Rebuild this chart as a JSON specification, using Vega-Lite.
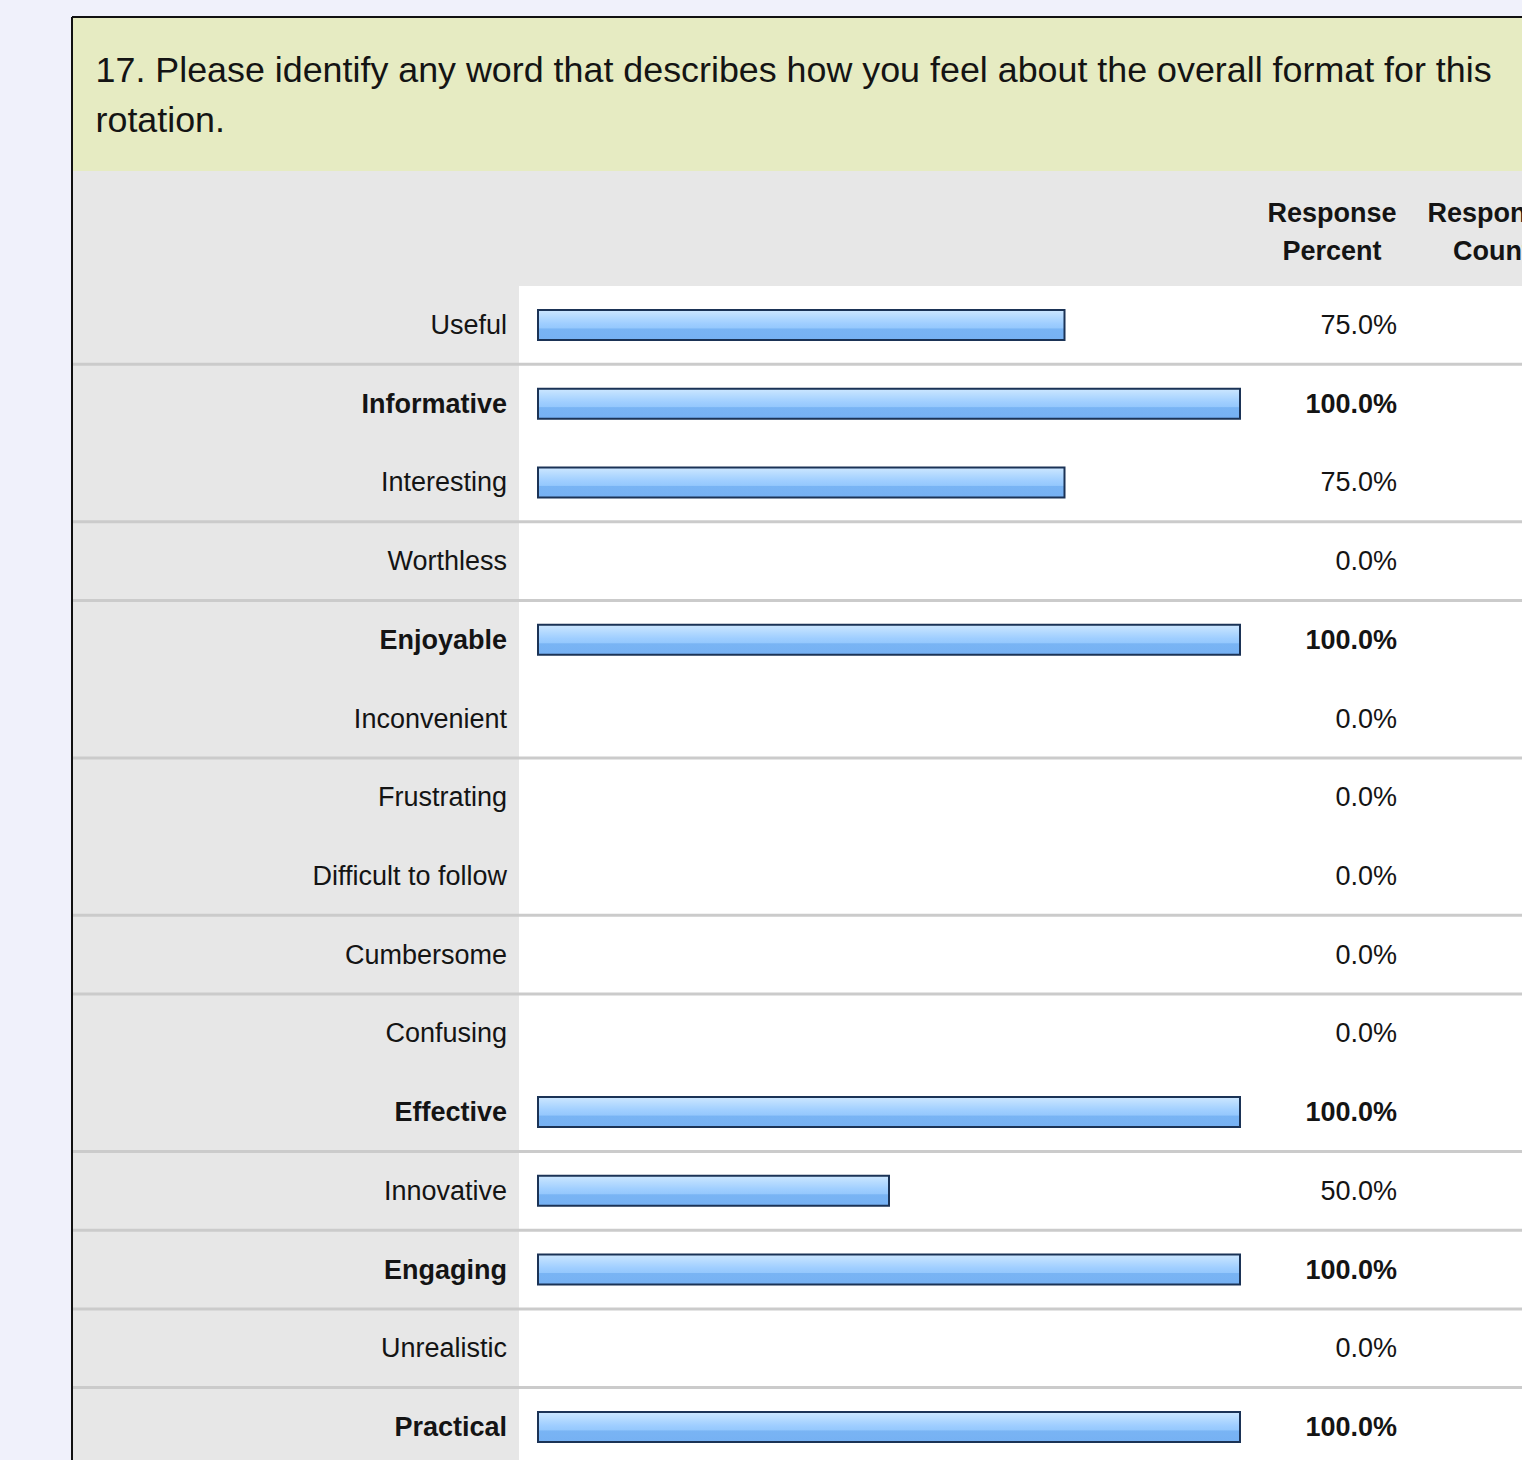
{
  "$schema": "https://vega.github.io/schema/vega-lite/v6.json",
  "width": 1522,
  "height": 1460,
  "autosize": {"type": "none"},
  "padding": 0,
  "background": "#f0f1fb",
  "config": {"view": {"stroke": null}, "font": "Liberation Sans"},
  "datasets": {
    "answers": [
      {"rank": 0, "word": "Useful", "share": 0.75, "block": 0},
      {"rank": 1, "word": "Informative", "share": 1.0, "block": 1},
      {"rank": 2, "word": "Interesting", "share": 0.75, "block": 1},
      {"rank": 3, "word": "Worthless", "share": 0, "block": 2},
      {"rank": 4, "word": "Enjoyable", "share": 1.0, "block": 3},
      {"rank": 5, "word": "Inconvenient", "share": 0, "block": 3},
      {"rank": 6, "word": "Frustrating", "share": 0, "block": 4},
      {"rank": 7, "word": "Difficult to follow", "share": 0, "block": 4},
      {"rank": 8, "word": "Cumbersome", "share": 0, "block": 5},
      {"rank": 9, "word": "Confusing", "share": 0, "block": 6},
      {"rank": 10, "word": "Effective", "share": 1.0, "block": 6},
      {"rank": 11, "word": "Innovative", "share": 0.5, "block": 7},
      {"rank": 12, "word": "Engaging", "share": 1.0, "block": 8},
      {"rank": 13, "word": "Unrealistic", "share": 0, "block": 9},
      {"rank": 14, "word": "Practical", "share": 1.0, "block": 10}
    ],
    "captions": [
      {"role": "question", "caption": "17. Please identify any word that describes how you feel about the overall format for this\nrotation."},
      {"role": "percent", "caption": "Response\nPercent"},
      {"role": "count", "caption": "Response\nCount"}
    ],
    "panel": [{"part": "one"}]
  },
  "layer": [
    {
      "data": {"name": "panel"},
      "mark": {"type": "rect", "fill": "#e6ebc2", "clip": true},
      "encoding": {
        "x": {"datum": -0.66382, "type": "quantitative", "scale": {"domain": [-0.766382, 1.401709], "nice": false, "zero": false, "padding": 0}, "axis": null},
        "x2": {"datum": 1.401709},
        "y": {"datum": -3.9129, "type": "quantitative", "scale": {"domain": [-4.1291, 14.4197], "reverse": true, "nice": false, "zero": false, "padding": 0}, "axis": null},
        "y2": {"datum": -1.9564}
      }
    },
    {
      "data": {"name": "panel"},
      "mark": {"type": "rect", "fill": "#e7e7e7", "clip": true},
      "encoding": {
        "x": {"datum": -0.66382, "type": "quantitative"},
        "x2": {"datum": 1.401709},
        "y": {"datum": -1.9564, "type": "quantitative"},
        "y2": {"datum": 14.4197}
      }
    },
    {
      "data": {"name": "panel"},
      "mark": {"type": "rect", "fill": "#ffffff", "clip": true},
      "encoding": {
        "x": {"datum": -0.027066, "type": "quantitative"},
        "x2": {"datum": 1.401709},
        "y": {"datum": -0.4955, "type": "quantitative"},
        "y2": {"datum": 14.4197}
      }
    },
    {
      "data": {"name": "answers"},
      "transform": [
        {"joinaggregate": [{"op": "max", "field": "rank", "as": "lastRank"}], "groupby": ["block"]},
        {"filter": "datum.rank === datum.lastRank && datum.rank < 14"}
      ],
      "mark": {"type": "rule", "color": "#cbcbcb", "strokeWidth": 3, "yOffset": 39.36, "clip": true},
      "encoding": {
        "x": {"datum": -0.66239, "type": "quantitative"},
        "x2": {"datum": 1.401709},
        "y": {"field": "rank", "type": "quantitative"}
      }
    },
    {
      "data": {"name": "panel"},
      "mark": {"type": "rule", "color": "#111111", "strokeWidth": 2, "clip": true},
      "encoding": {
        "x": {"datum": -0.66382, "type": "quantitative"},
        "y": {"datum": -3.9129, "type": "quantitative"},
        "y2": {"datum": 14.4197}
      }
    },
    {
      "data": {"name": "panel"},
      "mark": {"type": "rule", "color": "#111111", "strokeWidth": 2, "clip": true},
      "encoding": {
        "x": {"datum": -0.66382, "type": "quantitative"},
        "x2": {"datum": 1.401709},
        "y": {"datum": -3.9129, "type": "quantitative"}
      }
    },
    {
      "data": {"name": "answers"},
      "transform": [{"filter": "datum.share > 0"}],
      "mark": {
        "type": "bar",
        "orient": "horizontal",
        "size": 30,
        "stroke": "#1b3356",
        "strokeWidth": 2,
        "clip": true,
        "fill": {
          "gradient": "linear",
          "x1": 0, "y1": 0, "x2": 0, "y2": 1,
          "stops": [
            {"offset": 0, "color": "#cde7ff"},
            {"offset": 0.2, "color": "#b8dcff"},
            {"offset": 0.45, "color": "#9fceff"},
            {"offset": 0.6, "color": "#95c8fd"},
            {"offset": 0.63, "color": "#79b4f4"},
            {"offset": 1, "color": "#76b1f3"}
          ]
        }
      },
      "encoding": {
        "x": {"field": "share", "type": "quantitative"},
        "x2": {"datum": 0},
        "y": {"field": "rank", "type": "quantitative"}
      }
    },
    {
      "data": {"name": "answers"},
      "transform": [{"filter": "datum.share < 1"}],
      "mark": {"type": "text", "align": "right", "baseline": "alphabetic", "dy": 9, "fontSize": 27, "color": "#141414", "clip": true},
      "encoding": {
        "x": {"datum": -0.04416, "type": "quantitative"},
        "y": {"field": "rank", "type": "quantitative"},
        "text": {"field": "word"}
      }
    },
    {
      "data": {"name": "answers"},
      "transform": [{"filter": "datum.share >= 1"}],
      "mark": {"type": "text", "align": "right", "baseline": "alphabetic", "dy": 9, "fontSize": 27, "fontWeight": "bold", "color": "#141414", "clip": true},
      "encoding": {
        "x": {"datum": -0.04416, "type": "quantitative"},
        "y": {"field": "rank", "type": "quantitative"},
        "text": {"field": "word"}
      }
    },
    {
      "data": {"name": "answers"},
      "transform": [{"filter": "datum.share < 1"}],
      "mark": {"type": "text", "align": "right", "baseline": "alphabetic", "dy": 9, "fontSize": 27, "color": "#141414", "clip": true},
      "encoding": {
        "x": {"datum": 1.22365, "type": "quantitative"},
        "y": {"field": "rank", "type": "quantitative"},
        "text": {"field": "share", "type": "quantitative", "format": ".1%"}
      }
    },
    {
      "data": {"name": "answers"},
      "transform": [{"filter": "datum.share >= 1"}],
      "mark": {"type": "text", "align": "right", "baseline": "alphabetic", "dy": 9, "fontSize": 27, "fontWeight": "bold", "color": "#141414", "clip": true},
      "encoding": {
        "x": {"datum": 1.22365, "type": "quantitative"},
        "y": {"field": "rank", "type": "quantitative"},
        "text": {"field": "share", "type": "quantitative", "format": ".1%"}
      }
    },
    {
      "data": {"name": "captions"},
      "transform": [{"filter": "datum.role === 'question'"}],
      "mark": {"type": "text", "align": "left", "baseline": "alphabetic", "lineBreak": "\n", "lineHeight": 50, "fontSize": 35.85, "color": "#141414", "clip": true},
      "encoding": {
        "x": {"datum": -0.6303, "type": "quantitative"},
        "y": {"datum": -3.0871, "type": "quantitative"},
        "text": {"field": "caption"}
      }
    },
    {
      "data": {"name": "captions"},
      "transform": [{"filter": "datum.role === 'percent'"}],
      "mark": {"type": "text", "align": "center", "baseline": "alphabetic", "lineBreak": "\n", "lineHeight": 38, "fontSize": 27, "fontWeight": "bold", "color": "#141414", "clip": true},
      "encoding": {
        "x": {"datum": 1.131054, "type": "quantitative"},
        "y": {"datum": -1.3085, "type": "quantitative"},
        "text": {"field": "caption"}
      }
    },
    {
      "data": {"name": "captions"},
      "transform": [{"filter": "datum.role === 'count'"}],
      "mark": {"type": "text", "align": "center", "baseline": "alphabetic", "lineBreak": "\n", "lineHeight": 38, "fontSize": 27, "fontWeight": "bold", "color": "#141414", "clip": true},
      "encoding": {
        "x": {"datum": 1.358974, "type": "quantitative"},
        "y": {"datum": -1.3085, "type": "quantitative"},
        "text": {"field": "caption"}
      }
    }
  ]
}
